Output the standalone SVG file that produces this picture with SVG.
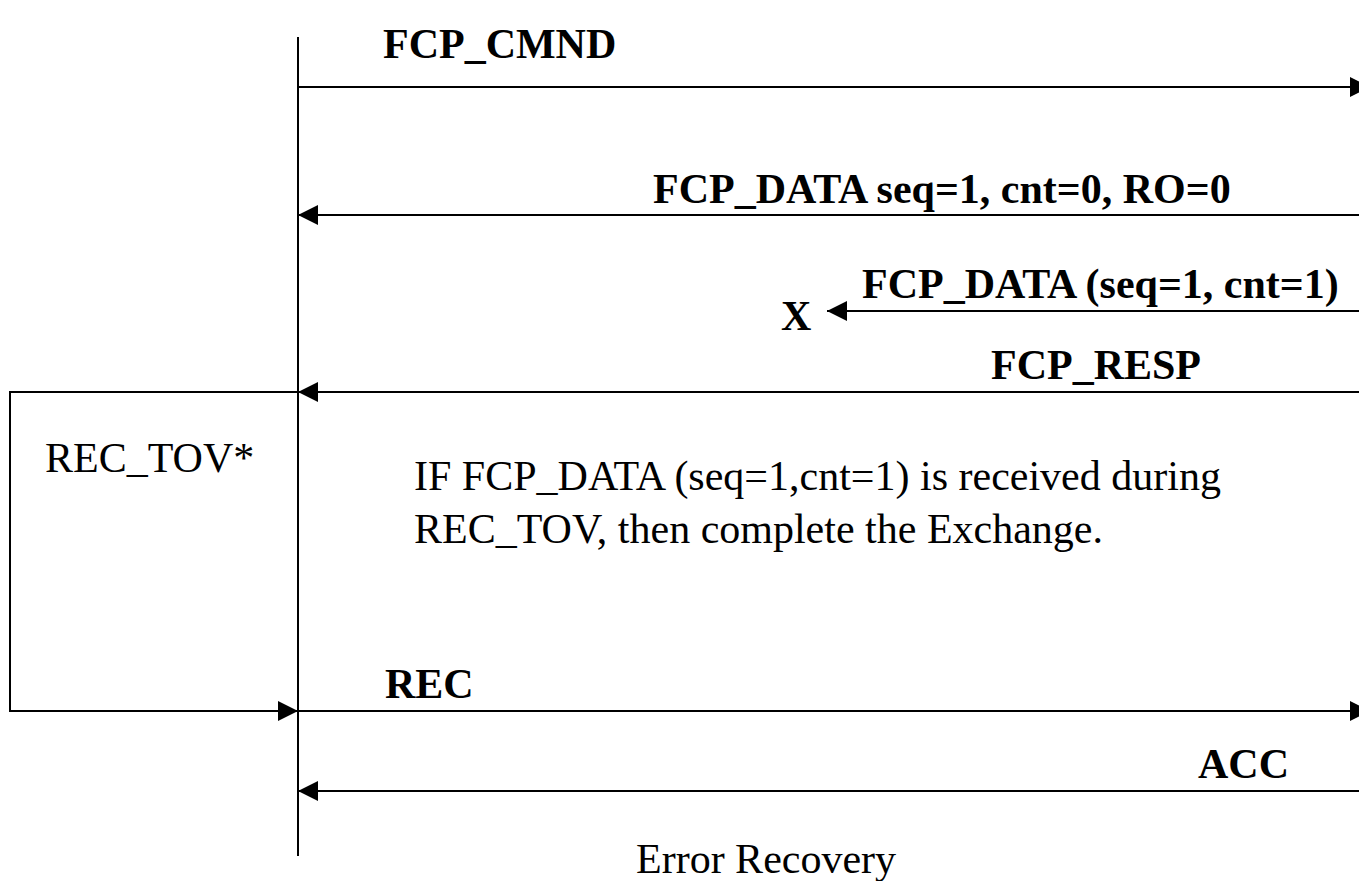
<svg xmlns="http://www.w3.org/2000/svg" width="1359" height="881" viewBox="0 0 1359 881">
<style>
.ln{stroke:#000;stroke-width:2;fill:none}
.b{font-family:"Liberation Serif",serif;font-weight:bold;font-size:42px;fill:#000}
.r{font-family:"Liberation Serif",serif;font-size:42px;fill:#000}
</style>
<defs>
<marker id="ah" viewBox="0 0 20 20" refX="20" refY="10" markerWidth="20" markerHeight="20" markerUnits="userSpaceOnUse" orient="auto">
<path d="M0,0 L20,10 L0,20 Z" fill="#000"/>
</marker>
</defs>
<rect width="1359" height="881" fill="#fff"/>
<g id="lifeline">
<line class="ln" x1="298" y1="37" x2="298" y2="856"/>
</g>
<g id="timer-box">
<polyline class="ln" points="298,392 10,392 10,711 298,711" marker-end="url(#ah)"/>
<text class="r" x="45" y="472">REC_TOV*</text>
</g>
<g id="connectors">
<line class="ln" x1="298" y1="87" x2="1370" y2="87" marker-end="url(#ah)"/>
<line class="ln" x1="1359" y1="215" x2="298" y2="215" marker-end="url(#ah)"/>
<line class="ln" x1="1359" y1="311" x2="827" y2="311" marker-end="url(#ah)"/>
<line class="ln" x1="1359" y1="392" x2="298" y2="392" marker-end="url(#ah)"/>
<line class="ln" x1="298" y1="711" x2="1370" y2="711" marker-end="url(#ah)"/>
<line class="ln" x1="1359" y1="791" x2="298" y2="791" marker-end="url(#ah)"/>
</g>
<g id="labels">
<text class="b" x="383" y="58">FCP_CMND</text>
<text class="b" x="653" y="203">FCP_DATA seq=1, cnt=0, RO=0</text>
<text class="b" x="862" y="298">FCP_DATA (seq=1, cnt=1)</text>
<text class="b" x="781" y="330">X</text>
<text class="b" x="991" y="379">FCP_RESP</text>
<text class="b" x="385" y="698">REC</text>
<text class="b" x="1198" y="778">ACC</text>
</g>
<g id="note">
<text class="r" x="414" y="490">IF FCP_DATA (seq=1,cnt=1) is received during</text>
<text class="r" x="414" y="543">REC_TOV, then complete the Exchange.</text>
</g>
<g id="caption">
<text class="r" x="636" y="873">Error Recovery</text>
</g>
</svg>
